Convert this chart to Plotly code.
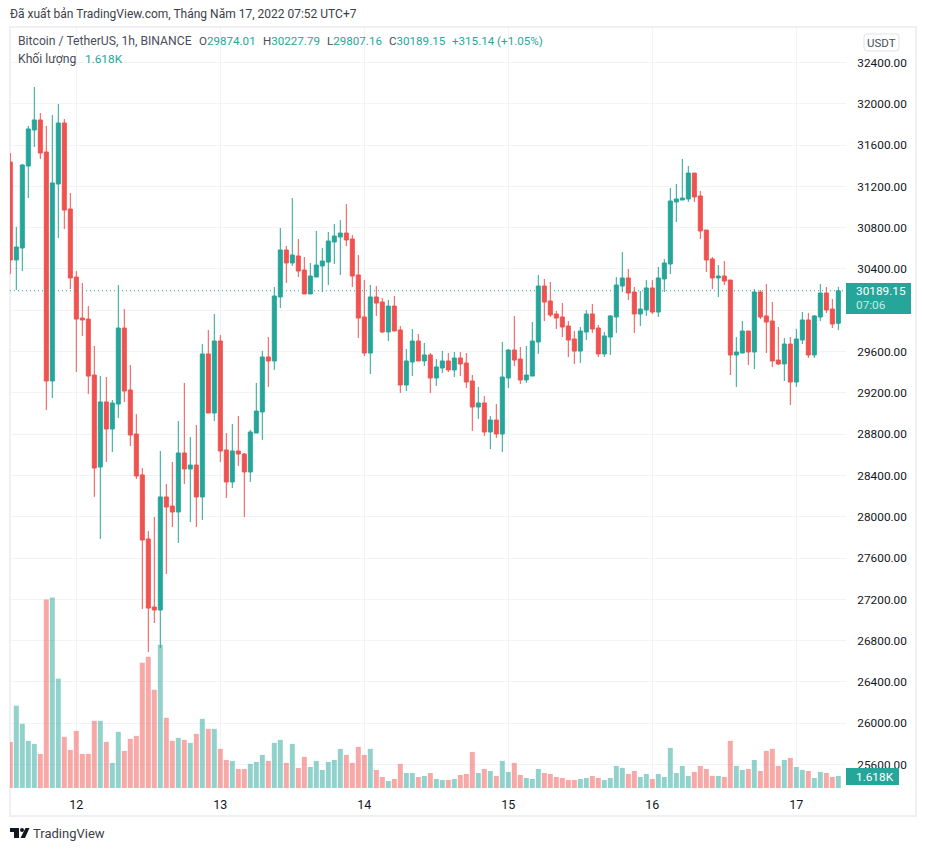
import pandas as pd
import plotly.graph_objects as go

# BTCUSDT 1h candles, 11 May 13:00 to 17 May 07:00
start_time = "2022-05-11 13:00"

opens = [
    31436, 30487, 30603, 31397, 31746, 31843, 31533, 29315, 31223, 31814, 30981, 30322,
    29925, 29915, 29373, 28482, 29112, 28850, 29092, 29828, 29228, 28802, 28405, 27785,
    27126, 27097, 28192, 28104, 28046, 28618, 28463, 28501, 28192, 29577, 29005, 29702,
    28647, 28337, 28637, 28608, 28434, 28811, 29015, 29548, 29509, 30129, 30584, 30458,
    30526, 30390, 30158, 30322, 30429, 30467, 30661, 30710, 30748, 30690, 30342, 29935,
    29586, 30129, 30080, 29790, 30041, 29809, 29276, 29499, 29702, 29509, 29567, 29344,
    29441, 29509, 29422, 29538, 29489, 29315, 29063, 29102, 28821, 28937, 28802, 29344,
    29615, 29528, 29325, 29363, 29693, 30235, 30090, 29964, 29935, 29848, 29722, 29605,
    29790, 29964, 29828, 29577, 29741, 29935, 30235, 30313, 30177, 29964, 30003, 30216,
    29983, 30303, 30448, 31049, 31068, 31078, 31329, 31107, 30777, 30497, 30313, 30332,
    30293, 29567, 29586, 29799, 29596, 30177, 29945, 29896, 29518, 29480, 29673, 29305,
    29712, 29906, 29567, 29935, 30167, 30012, 29874.01,
]
highs = [
    31523, 30807, 31417, 31785, 32162, 31911, 31785, 31891, 31998, 31852, 31136, 30380,
    30264, 30041, 29654, 29363, 29354, 29131, 30245, 30012, 29470, 28995, 28472, 27862,
    27998, 28637, 28317, 28531, 28928, 29296, 28773, 28889, 29673, 29809, 29964, 29760,
    28811, 28899, 28976, 28618, 28841, 29296, 29606, 29741, 30225, 30797, 30622, 31087,
    30690, 30516, 30458, 30768, 30603, 30758, 30836, 30874, 31029, 30729, 30535, 30293,
    30245, 30235, 30119, 30100, 30138, 29848, 29625, 29819, 29770, 29683, 29586, 29528,
    29606, 29586, 29596, 29596, 29586, 29373, 29257, 29170, 28976, 29092, 29693, 29625,
    29945, 29644, 29654, 29886, 30342, 30303, 30274, 29993, 30070, 29896, 29799, 29838,
    30003, 30061, 29857, 29790, 29954, 30322, 30564, 30400, 30225, 30187, 30293, 30293,
    30419, 30497, 31184, 31223, 31465, 31397, 31329, 31155, 30777, 30516, 30438, 30477,
    30293, 29741, 29896, 29799, 30206, 30196, 30254, 30080, 29838, 29732, 29741, 29819,
    29983, 29974, 29954, 30254, 30225, 30109, 30227.79,
]
lows = [
    30351, 30196, 30380, 31087, 31581, 31465, 29034, 29150, 30700, 30787, 30206, 29402,
    29751, 29189, 28192, 27785, 28531, 28627, 28957, 29112, 28685, 28366, 27107, 26690,
    26971, 26729, 27446, 27901, 27746, 28317, 27949, 27901, 27969, 29005, 28928, 28531,
    28182, 28279, 28492, 27998, 28337, 28811, 28744, 29257, 29422, 30022, 30264, 30429,
    30322, 30158, 30158, 30322, 30177, 30245, 30448, 30342, 30622, 30225, 29732, 29557,
    29383, 29945, 29780, 29702, 29799, 29199, 29218, 29363, 29509, 29460, 29199, 29267,
    29392, 29402, 29354, 29363, 29247, 28831, 28947, 28782, 28656, 28763, 28627, 29247,
    29460, 29286, 29296, 29363, 29577, 29896, 29935, 29819, 29741, 29547, 29480, 29489,
    29712, 29780, 29547, 29547, 29567, 29780, 30177, 30100, 29780, 29848, 29945, 29964,
    29935, 30177, 30351, 30855, 31068, 31049, 31049, 30690, 30371, 30206, 30129, 30245,
    29373, 29257, 29586, 29470, 29431, 29915, 29586, 29451, 29470, 29315, 29083, 29257,
    29673, 29538, 29538, 29896, 29974, 29828, 29807.16,
]
closes = [
    30487, 30613, 31407, 31756, 31843, 31523, 29315, 31233, 31814, 30971, 30313, 29915,
    29906, 29363, 28472, 29112, 28850, 29102, 29828, 29218, 28792, 28395, 27775, 27116,
    27097, 28192, 28095, 28046, 28618, 28463, 28501, 28192, 29577, 29005, 29702, 28637,
    28337, 28637, 28608, 28434, 28821, 29024, 29548, 29509, 30138, 30584, 30458, 30535,
    30380, 30158, 30332, 30438, 30477, 30671, 30719, 30748, 30681, 30332, 29925, 29586,
    30129, 30070, 29790, 30041, 29799, 29276, 29509, 29702, 29509, 29567, 29344, 29451,
    29509, 29422, 29538, 29480, 29305, 29063, 29102, 28821, 28937, 28802, 29354, 29615,
    29518, 29325, 29373, 29702, 30235, 30080, 29954, 29925, 29838, 29712, 29605, 29799,
    29964, 29819, 29577, 29751, 29945, 30245, 30313, 30167, 29964, 30012, 30216, 29983,
    30313, 30458, 31058, 31078, 31087, 31329, 31097, 30768, 30487, 30313, 30332, 30283,
    29567, 29596, 29799, 29596, 30177, 29935, 29886, 29509, 29480, 29673, 29305, 29722,
    29906, 29567, 29945, 30167, 30003, 29867, 30189.15,
]
# volume in thousands of BTC
volumes = [
    6.20, 11.06, 8.63, 6.34, 5.93, 4.58, 25.35, 25.62, 14.70, 6.88, 5.12, 7.68,
    4.58, 4.58, 9.03, 9.03, 6.20, 3.37, 7.55, 4.99, 6.61, 7.01, 16.85, 17.66,
    13.21, 19.28, 9.44, 6.34, 6.74, 6.47, 6.07, 7.28, 9.30, 7.95, 7.95, 5.26,
    3.77, 3.64, 2.56, 2.56, 3.24, 3.51, 4.45, 3.64, 6.07, 6.47, 3.37, 5.93,
    2.70, 4.18, 2.83, 3.64, 2.43, 3.51, 3.77, 5.26, 4.45, 3.37, 5.53, 4.45,
    5.26, 2.43, 1.48, 0.94, 1.21, 3.24, 2.02, 2.02, 1.48, 1.62, 2.02, 1.21,
    1.08, 1.08, 1.21, 1.75, 1.89, 4.85, 2.02, 2.56, 2.29, 1.62, 3.64, 2.16,
    3.37, 1.75, 1.35, 1.21, 2.56, 2.02, 1.89, 1.48, 1.35, 1.08, 1.08, 1.21,
    1.35, 1.62, 1.35, 1.08, 1.35, 2.97, 2.70, 1.89, 2.29, 1.48, 1.89, 1.21,
    1.89, 1.48, 5.39, 2.02, 2.97, 1.62, 2.16, 2.97, 2.56, 1.62, 1.62, 1.48,
    6.34, 2.97, 2.43, 2.56, 3.77, 2.29, 4.99, 5.26, 2.97, 3.77, 4.04, 2.83,
    2.43, 2.29, 1.35, 2.16, 2.02, 1.48, 1.618,
]

price_ticks = list(range(25600, 32800, 400))
day_ticks = ["2022-05-12", "2022-05-13", "2022-05-14", "2022-05-15", "2022-05-16", "2022-05-17"]
day_labels = ["12", "13", "14", "15", "16", "17"]

GREEN = "#26a69a"
RED = "#ef5350"
GRID = "#f2f3f6"
TEXT = "#131722"
MUTED = "#4a4e59"
W, H = 926, 851


def px(x):
    return x / W


def py(y):
    return 1 - y / H


times = pd.date_range(start_time, periods=len(opens), freq="h")
bar_colors = [
    "rgba(38,166,154,0.5)" if c >= o else "rgba(239,83,80,0.5)"
    for o, c in zip(opens, closes)
]

fig = go.Figure()
fig.add_trace(go.Bar(x=times, y=volumes, marker=dict(color=bar_colors, line_width=0), yaxis="y"))
fig.add_trace(go.Candlestick(
    x=times, open=opens, high=highs, low=lows, close=closes, yaxis="y2",
    whiskerwidth=0,
    increasing=dict(line=dict(color=GREEN, width=1), fillcolor=GREEN),
    decreasing=dict(line=dict(color=RED, width=1), fillcolor=RED),
))

hour = pd.Timedelta(hours=1)
x_range = [times[0] - 0.05 * hour, times[0] + 139.28 * hour]

fig.update_layout(
    width=W, height=H, autosize=False,
    margin=dict(l=0, r=0, t=0, b=0),
    paper_bgcolor="white", plot_bgcolor="white",
    showlegend=False, bargap=0.17, boxgap=0.2, boxgroupgap=0.166,
    font=dict(family="Roboto", size=12, color=TEXT),
    xaxis=dict(
        domain=[px(10), px(846)], range=x_range, rangeslider_visible=False,
        tickmode="array", tickvals=day_ticks, ticktext=day_labels,
        showgrid=True, gridcolor=GRID, gridwidth=1, zeroline=False,
        ticks="outside", ticklen=5, tickcolor="rgba(0,0,0,0)",
        tickfont=dict(size=12.5, color=TEXT), showline=False,
    ),
    yaxis=dict(
        domain=[py(788), py(28)], range=[0, 102.2], visible=False, fixedrange=True,
    ),
    yaxis2=dict(
        overlaying="y", side="right", anchor="x",
        range=[33005 - 9.685 * 788, 33005 - 9.685 * 28],
        tickmode="array", tickvals=price_ticks, tickformat=".2f",
        showgrid=True, gridcolor=GRID, gridwidth=1, zeroline=False,
        ticks="outside", ticklen=8, tickcolor="rgba(0,0,0,0)",
        tickfont=dict(size=11.8, color=TEXT), showline=False,
    ),
)

last_close = closes[-1]
# rounded corners for the USDT button
bx0, bx1, by0, by1, r = 864, 899, 34, 51, 3
button_path = (
    f"M {px(bx0 + r)},{py(by0)} L {px(bx1 - r)},{py(by0)} Q {px(bx1)},{py(by0)} {px(bx1)},{py(by0 + r)} "
    f"L {px(bx1)},{py(by1 - r)} Q {px(bx1)},{py(by1)} {px(bx1 - r)},{py(by1)} "
    f"L {px(bx0 + r)},{py(by1)} Q {px(bx0)},{py(by1)} {px(bx0)},{py(by1 - r)} "
    f"L {px(bx0)},{py(by0 + r)} Q {px(bx0)},{py(by0)} {px(bx0 + r)},{py(by0)} Z"
)
shapes = [
    # last price line
    dict(type="line", xref="x", yref="y2", x0=x_range[0], x1=x_range[1], y0=last_close, y1=last_close,
         line=dict(color=GREEN, width=1, dash="1px,3px")),
    # outer frame
    dict(type="rect", xref="paper", yref="paper", x0=px(10), x1=px(916), y0=py(816), y1=py(27),
         line=dict(color="#eff0f5", width=2), fillcolor="rgba(0,0,0,0)", layer="below"),
    # price and volume labels on the axis
    dict(type="rect", xref="paper", yref="paper", x0=px(846), x1=px(911), y0=py(314), y1=py(283),
         line_width=0, fillcolor=GREEN),
    dict(type="rect", xref="paper", yref="paper", x0=px(846), x1=px(899), y0=py(785), y1=py(768),
         line_width=0, fillcolor=GREEN),
    # USDT button
    dict(type="path", xref="paper", yref="paper", path=button_path,
         line=dict(color="#e0e3eb", width=1), fillcolor="white", layer="above"),
]

# TradingView logo
logo_t = [(10, 828), (19, 828), (19, 838), (14, 838), (14, 832), (10, 832)]
logo_v = [(25.5, 828), (29.5, 828), (25, 838), (20.5, 838)]
for poly in (logo_t, logo_v):
    path = "M " + " L ".join(f"{px(a)},{py(b)}" for a, b in poly) + " Z"
    shapes.append(dict(type="path", xref="paper", yref="paper", path=path, line_width=0, fillcolor=TEXT))
shapes.append(dict(type="circle", xref="paper", yref="paper", x0=px(20), x1=px(24), y0=py(832), y1=py(828),
                   line_width=0, fillcolor=TEXT))
fig.update_layout(shapes=shapes)


def label(x, y, text, size=12, color=TEXT, xanchor="left"):
    fig.add_annotation(xref="paper", yref="paper", x=px(x - 1), y=py(y), text=text, showarrow=False,
                       xanchor=xanchor, yanchor="middle", align="left",
                       font=dict(size=size, color=color), borderpad=0)


def val(s):
    return f'<span style="color:{GREEN}">{s}</span>'


label(10, 14, "Đã xuất bản TradingView.com, Tháng Năm 17, 2022 07:52 UTC+7", size=12, color="#3c4049")
label(18, 41, "Bitcoin / TetherUS, 1h, BINANCE", size=12.2, color=MUTED)
label(199, 41, "O" + val("29874.01"), size=11.6, color=MUTED)
label(263, 41, "H" + val("30227.79"), size=11.6, color=MUTED)
label(327, 41, "L" + val("29807.16"), size=11.6, color=MUTED)
label(389, 41, "C" + val("30189.15"), size=11.6, color=MUTED)
label(452, 41, val("+315.14 (+1.05%)"), size=11.6, color=MUTED)
label(18, 59, "Khối lượng", size=12.2, color=MUTED)
label(85, 59, "1.618K", size=11.8, color=GREEN)
label(882.5, 43, "USDT", size=11.5, xanchor="center", color=MUTED)
label(856, 291, f"{last_close:.2f}", size=11.8, color="white")
label(856, 305, "07:06", size=11.8, color="#c9e9e6")
label(856, 777, f"{volumes[-1]:.3f}K", size=11.8, color="white")
label(33, 833, "TradingView", size=13, color="#3c4049")

fig.write_html("out.html", config={"displayModeBar": False}, post_script="document.body.style.margin='0';")
